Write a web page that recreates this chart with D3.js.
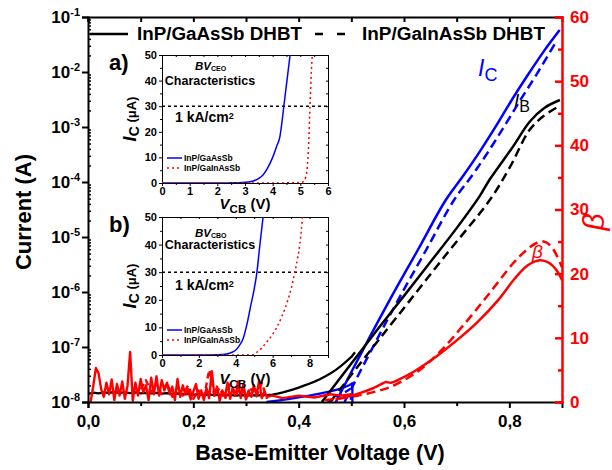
<!DOCTYPE html>
<html><head><meta charset="utf-8">
<script src="https://cdn.jsdelivr.net/npm/d3@7"></script>
<style>
body{margin:0;background:#fff}
svg{display:block}
text{font-family:Arial,"Liberation Sans",Helvetica,sans-serif}
</style>
</head><body>
<svg id="chart" width="612" height="470"></svg>
<script>
// ---------- Gummel data: base-emitter voltage (V) vs current (A) ----------
// InP/GaAsSb DHBT (solid lines)
const icGaAsSbV = [0.4706,0.5218,0.573,0.6262,0.6793,0.7135,0.7457,0.776,0.8046,0.835,0.867,0.8956];
const icGaAsSbA = [1.0e-8,8.8e-8,7.2e-7,5.8e-6,4.7e-5,1.34e-4,3.8e-4,1.09e-3,3.1e-3,8.8e-3,2.5e-2,5.8e-2];
const ibGaAsSbV = [0.444,0.50,0.55,0.60,0.65,0.70,0.744,0.763,0.807,0.839,0.867,0.896];
const ibGaAsSbA = [1.0e-8,5.0e-8,2.1e-7,8.5e-7,3.5e-6,1.45e-5,5.6e-5,1.12e-4,4.4e-4,1.26e-3,2.24e-3,3.1e-3];
// InP/GaInAsSb DHBT (dashed lines)
const icGaInAsSbV = [0.487,0.538,0.589,0.642,0.695,0.730,0.762,0.792,0.821,0.851,0.886];
const icGaInAsSbA = [1.0e-8,8.8e-8,7.2e-7,5.8e-6,4.7e-5,1.34e-4,3.8e-4,1.09e-3,3.1e-3,8.8e-3,3.2e-2];
const ibGaInAsSbV = [0.46,0.52,0.5863,0.68,0.7628,0.80,0.8387,0.865,0.8918];
const ibGaInAsSbA = [1.0e-8,5.5e-8,3.5e-7,4.8e-6,4.7e-5,1.78e-4,8.9e-4,1.58e-3,2.31e-3];

// Low-current sweep (noise floor), InP/GaAsSb
const ibLowV = [0.00,0.01,0.02,0.03,0.04,0.05,0.06,0.07,0.08,0.09,0.10,0.11,0.12,0.13,0.14,0.15,0.16,0.17,0.18,0.19,0.20,0.21,0.22,0.23,0.24,0.25,0.26,0.27,0.28,0.29,0.30,0.31,0.32,0.33,0.34,0.35,0.36,0.37,0.38,0.39,0.40,0.41,0.42,0.43,0.44,0.45,0.46,0.47,0.48,0.49,0.50,0.507];
const ibLowA = [1.40e-8,1.48e-8,1.44e-8,1.50e-8,1.46e-8,1.52e-8,1.47e-8,1.50e-8,1.45e-8,1.49e-8,1.44e-8,1.47e-8,1.43e-8,1.46e-8,1.42e-8,1.45e-8,1.40e-8,1.43e-8,1.38e-8,1.41e-8,1.36e-8,1.39e-8,1.34e-8,1.37e-8,1.33e-8,1.36e-8,1.32e-8,1.35e-8,1.31e-8,1.34e-8,1.30e-8,1.33e-8,1.31e-8,1.34e-8,1.33e-8,1.36e-8,1.42e-8,1.50e-8,1.60e-8,1.70e-8,1.82e-8,1.98e-8,2.15e-8,2.35e-8,2.6e-8,2.9e-8,3.3e-8,3.8e-8,4.5e-8,5.4e-8,6.6e-8,8.0e-8];
const icLowV = [0.339,0.36,0.38,0.40,0.42,0.44,0.46,0.48,0.497,0.502,0.502];
const icLowA = [1.0e-8,1.06e-8,1.13e-8,1.21e-8,1.30e-8,1.42e-8,1.56e-8,1.75e-8,2.04e-8,2.2e-8,1.0e-8];
const icLowDashV = [0.455,0.47,0.485,0.497,0.50];
const icLowDashA = [1.0e-8,1.2e-8,1.45e-8,1.7e-8,1.0e-8];

// Current gain beta (right axis)
const betaGaAsSbV = [0.47,0.50,0.52,0.54,0.555,0.565,0.575,0.59,0.62,0.66,0.70,0.74,0.78,0.81,0.835,0.858,0.875,0.89,0.90];
const betaGaAsSb  = [0.4,1.0,1.5,2.1,2.7,3.1,3.0,3.5,4.8,7.0,9.6,12.5,16.0,19.2,21.3,22.1,21.7,20.5,19.0];
const betaGaInAsSbV = [0.45,0.50,0.54,0.57,0.60,0.63,0.668,0.71,0.757,0.806,0.83,0.85,0.865,0.88,0.90];
const betaGaInAsSb  = [0.3,0.8,1.5,2.2,3.4,5.0,7.8,11.7,16.4,21.5,23.5,24.7,25.0,24.2,21.0];
// Gain computed in the noise floor
const betaNoiseV = [0.005,0.01,0.015,0.02,0.025,0.03,0.035,0.04,0.045,0.05,0.055,0.06,0.065,0.07,0.075,0.08,0.085,0.09,0.095,0.10,0.105,0.11,0.115,0.12,0.125,0.13,0.135,0.14,0.145,0.15,0.155,0.16,0.165,0.17,0.175,0.18,0.185,0.19,0.195,0.20,0.205,0.21,0.215,0.22,0.225,0.23,0.235,0.24,0.245,0.25,0.255,0.26,0.265,0.27,0.275,0.28,0.285,0.29,0.295,0.30,0.305,0.31,0.315,0.32,0.325,0.33,0.335,0.34,0.35,0.37,0.40,0.43,0.46,0.48,0.50];
const betaNoise  = [0,2.5,5.3,4.5,2.0,0.8,3.0,1.2,3.5,0.3,2.8,1.0,3.2,0.5,2.5,7.8,0.2,3.0,1.0,3.6,1.5,2.6,0.3,3.8,1.2,4.0,1.0,3.4,1.8,3.0,1.2,2.4,0.3,3.6,0.8,2.6,1.2,2.0,0.4,1.6,2.8,0.5,1.8,0.3,2.2,0.6,4.8,1.0,2.4,0.2,1.8,0.8,3.0,0.5,2.2,1.0,3.2,0.6,2.8,0.4,1.8,0.8,2.6,1.0,3.4,0.6,1.6,0.8,1.0,0.6,1.0,0.7,1.2,1.0,1.2];
const betaNoiseDashV = [0.10,0.11,0.12,0.13,0.14,0.15,0.16,0.17,0.18,0.19,0.20,0.21,0.22,0.23,0.235,0.24,0.25,0.26,0.27,0.28,0.29,0.30,0.31,0.32,0.33,0.34];
const betaNoiseDash  = [2.0,3.4,1.5,2.8,1.2,3.0,0.8,2.4,1.0,2.6,0.5,1.8,0.6,5.0,3.4,0.8,2.2,0.4,2.8,1.0,2.4,0.6,2.0,0.9,3.0,0.5];

// Axis ticks
const xMajorTicks = [0,0.2,0.4,0.6,0.8];
const xMinorTicks = [0.1,0.3,0.5,0.7];
const decadeExps = [-8,-7,-6,-5,-4,-3,-2,-1];
const betaTicks = [0,10,20,30,40,50,60];
const betaMinorTicks = [5,15,25,35,45,55];

// ---------- Breakdown insets: V_CB (V) vs I_C (uA) ----------
const limitCurrent = 30;   // 1 kA/cm2 criterion
const ceoGaAsSbV = [0,1,2,2.5,3.0,3.3,3.5,3.65,3.8,4.0,4.15,4.26,4.35,4.4,4.5,4.55,4.63];
const ceoGaAsSbI = [0,0,0,0.05,0.3,0.8,1.8,3.1,5.5,10,14.5,18,25,29.7,38.5,43,50];
const ceoGaInAsSbV = [0,3.5,4.5,5.0,5.1,5.2,5.25,5.3,5.35,5.4,5.43];
const ceoGaInAsSbI = [0,0,0.05,0.2,0.5,2.5,6,15,30,44,50];
const cboGaAsSbV = [0,2,3,3.5,3.8,4.0,4.2,4.4,4.6,4.8,5.0,5.14,5.3,5.48];
const cboGaAsSbI = [0,0,0.1,0.4,1.0,1.8,3.5,6,11,17.5,24,29.7,39.5,50];
const cboGaInAsSbV = [0,4.9,5.14,5.4,5.68,6.0,6.22,6.5,6.78,7.0,7.2,7.35,7.48,7.62];
const cboGaInAsSbI = [0,0,1,2.5,4.7,7.5,10,14,19,24,30,35,40.5,50];

const BLUE = "#0000ff", RED = "#ff0000";
const zip = (a, b) => a.map((v, i) => [v, b[i]]);

const svg = d3.select("#chart");
const X0 = 88, X1 = 562, Y0 = 402, Y1 = 17;
const x = d3.scaleLinear().domain([0, 0.9]).range([X0, X1]);
const yI = d3.scaleLog().domain([1e-8, 1e-1]).range([Y0, Y1]);
const yB = d3.scaleLinear().domain([0, 60]).range([Y0, Y1]);

const defs = svg.append("defs");
defs.append("clipPath").attr("id", "mainClip").append("rect")
  .attr("x", X0).attr("y", Y1).attr("width", X1 - X0).attr("height", Y0 - Y1 + 2);

const plot = svg.append("g").attr("clip-path", "url(#mainClip)");
const lineI = d3.line().x(d => x(d[0])).y(d => yI(d[1]));
const lineIs = d3.line().x(d => x(d[0])).y(d => yI(d[1])).curve(d3.curveCatmullRom.alpha(0.5));
const lineB = d3.line().x(d => x(d[0])).y(d => yB(d[1]));
const lineBs = d3.line().x(d => x(d[0])).y(d => yB(d[1])).curve(d3.curveCatmullRom.alpha(0.5));

function path(g, fn, data, color, dash, w) {
  g.append("path").attr("d", fn(data)).attr("fill", "none")
    .attr("stroke", color).attr("stroke-width", w || 2.5)
    .attr("stroke-dasharray", dash || null)
    .attr("stroke-linejoin", "round");
}
const DASH = "9,5";

// noise-floor sweeps
path(plot, lineI, zip(ibLowV, ibLowA), "#000", null, 2.3);
path(plot, lineI, zip(icLowV, icLowA), BLUE, null, 2.3);
path(plot, lineI, zip(icLowDashV, icLowDashA), BLUE, "6,4", 2.3);
// collector and base currents
path(plot, lineIs, zip(icGaAsSbV, icGaAsSbA), BLUE);
path(plot, lineIs, zip(icGaInAsSbV, icGaInAsSbA), BLUE, DASH);
path(plot, lineIs, zip(ibGaAsSbV, ibGaAsSbA), "#000");
path(plot, lineIs, zip(ibGaInAsSbV, ibGaInAsSbA), "#000", DASH);
// current gain
path(plot, lineB, zip(betaNoiseV, betaNoise), RED, null, 2.4);
path(plot, lineB, zip(betaNoiseDashV, betaNoiseDash), RED, "6,4", 2.4);
path(plot, lineBs, zip(betaGaAsSbV, betaGaAsSb), RED);
path(plot, lineBs, zip(betaGaInAsSbV, betaGaInAsSb), RED, DASH);

// ---------- axes ----------
const TICK_FONT = 17;
function styleAxis(g, color, w) {
  g.select(".domain").attr("stroke", color).attr("stroke-width", w);
  g.selectAll(".tick line").attr("stroke", color).attr("stroke-width", w);
  g.selectAll(".tick text").attr("fill", color)
    .attr("font-size", TICK_FONT).attr("font-weight", "bold")
    .attr("font-family", "Arial, 'Liberation Sans', sans-serif");
}
const fmtX = d => d.toFixed(1).replace(".", ",");
const gxB = svg.append("g").attr("transform", `translate(0,${Y0})`)
  .call(d3.axisBottom(x).tickValues(xMajorTicks).tickSize(6).tickPadding(7).tickFormat(fmtX));
styleAxis(gxB, "#000", 2);
const gxBm = svg.append("g").attr("transform", `translate(0,${Y0})`)
  .call(d3.axisBottom(x).tickValues(xMinorTicks).tickSize(4).tickFormat(""));
styleAxis(gxBm, "#000", 2); gxBm.select(".domain").remove();
const gxT = svg.append("g").attr("transform", `translate(0,${Y1})`)
  .call(d3.axisTop(x).tickValues(xMajorTicks.concat(xMinorTicks)).tickSize(-5).tickFormat(""));
styleAxis(gxT, "#000", 2);

const decades = decadeExps.map(e => Math.pow(10, e));
const minor = [];
decadeExps.slice(0, -1).forEach(e => { for (let k = 2; k <= 9; k++) minor.push(k * Math.pow(10, e)); });
const gyL = svg.append("g").attr("transform", `translate(${X0},0)`)
  .call(d3.axisLeft(yI).tickValues(decades).tickSize(6).tickFormat(""));
styleAxis(gyL, "#000", 2);
const gyLm = svg.append("g").attr("transform", `translate(${X0},0)`)
  .call(d3.axisLeft(yI).tickValues(minor).tickSize(-3).tickFormat(""));
styleAxis(gyLm, "#000", 1.5); gyLm.select(".domain").remove();
decadeExps.forEach(e => {
  const t = svg.append("text").attr("x", X0 - 8).attr("y", yI(Math.pow(10, e)) + 6)
    .attr("text-anchor", "end").attr("font-size", TICK_FONT).attr("font-weight", "bold");
  t.append("tspan").text("10");
  t.append("tspan").attr("dy", -7).attr("font-size", 11).text(String(e));
});

const gyR = svg.append("g").attr("transform", `translate(${X1},0)`)
  .call(d3.axisRight(yB).tickValues(betaTicks).tickSize(-7).tickPadding(8));
styleAxis(gyR, RED, 2.5);
const gyRm = svg.append("g").attr("transform", `translate(${X1},0)`)
  .call(d3.axisRight(yB).tickValues(betaMinorTicks).tickSize(-4).tickFormat(""));
styleAxis(gyRm, RED, 2.5); gyRm.select(".domain").remove();

// axis titles
svg.append("text").attr("transform", "translate(31,212) rotate(-90)")
  .attr("text-anchor", "middle").attr("font-size", 22).attr("font-weight", "bold").text("Current (A)");
svg.append("text").attr("x", 320).attr("y", 460)
  .attr("text-anchor", "middle").attr("font-size", 21.5).attr("font-weight", "bold").text("Base-Emitter Voltage (V)");
svg.append("text").attr("transform", "translate(604,222) rotate(-90)")
  .attr("text-anchor", "middle").attr("font-size", 30).attr("font-style", "italic")
  .attr("fill", RED).text("β");

// curve labels
const lc = svg.append("text").attr("x", 478).attr("y", 76).attr("fill", BLUE).attr("font-size", 23);
lc.append("tspan").attr("font-style", "italic").text("I");
lc.append("tspan").attr("dy", 5).attr("font-size", 18).text("C");
const lb = svg.append("text").attr("x", 514).attr("y", 107).attr("fill", "#000").attr("font-size", 19);
lb.append("tspan").attr("font-style", "italic").text("I");
lb.append("tspan").attr("dy", 5).attr("font-size", 16).text("B");
svg.append("text").attr("x", 532).attr("y", 258).attr("fill", RED)
  .attr("font-size", 19).attr("font-style", "italic").text("β");

// legend
svg.append("line").attr("x1", 90).attr("x2", 128).attr("y1", 34).attr("y2", 34)
  .attr("stroke", "#000").attr("stroke-width", 2.5);
svg.append("text").attr("x", 137).attr("y", 40).attr("font-size", 17.5).attr("font-weight", "bold")
  .attr("textLength", 165).attr("lengthAdjust", "spacingAndGlyphs").text("InP/GaAsSb DHBT");
svg.append("line").attr("x1", 315).attr("x2", 345).attr("y1", 34).attr("y2", 34)
  .attr("stroke", "#000").attr("stroke-width", 2.5).attr("stroke-dasharray", "8,14");
svg.append("text").attr("x", 362).attr("y", 40).attr("font-size", 17.5).attr("font-weight", "bold")
  .attr("textLength", 183).attr("lengthAdjust", "spacingAndGlyphs").text("InP/GaInAsSb DHBT");

// ---------- insets ----------
function inset(cfg) {
  const L = 162, R = 328;
  const g = svg.append("g");
  const xs = d3.scaleLinear().domain([0, cfg.xMax]).range([L, R]);
  const ys = d3.scaleLinear().domain([0, 50]).range([cfg.bottom, cfg.top]);
  g.append("rect").attr("x", L).attr("y", cfg.top).attr("width", R - L).attr("height", cfg.bottom - cfg.top)
    .attr("fill", "#fff").attr("stroke", "none");
  const id = "clip" + cfg.name;
  defs.append("clipPath").attr("id", id).append("rect")
    .attr("x", L).attr("y", cfg.top).attr("width", R - L).attr("height", cfg.bottom - cfg.top);

  const st = (a) => {
    a.select(".domain").attr("stroke", "#000").attr("stroke-width", 1);
    a.selectAll(".tick line").attr("stroke", "#000").attr("stroke-width", 1);
    a.selectAll(".tick text").attr("font-size", 11).attr("font-weight", "bold").attr("fill", "#000")
      .attr("font-family", "Arial, 'Liberation Sans', sans-serif");
  };
  const ax = g.append("g").attr("transform", `translate(0,${cfg.bottom})`)
    .call(d3.axisBottom(xs).tickValues(cfg.xTicks).tickSize(3).tickPadding(1).tickFormat(d3.format("d")));
  st(ax);
  const axm = g.append("g").attr("transform", `translate(0,${cfg.bottom})`)
    .call(d3.axisBottom(xs).tickValues(cfg.xMinor).tickSize(2).tickFormat(""));
  st(axm); axm.select(".domain").remove();
  const at = g.append("g").attr("transform", `translate(0,${cfg.top})`)
    .call(d3.axisTop(xs).tickValues(cfg.xTicks.concat(cfg.xMinor)).tickSize(-2).tickFormat(""));
  st(at);
  const ay = g.append("g").attr("transform", `translate(${L},0)`)
    .call(d3.axisLeft(ys).tickValues([0, 10, 20, 30, 40, 50]).tickSize(3).tickPadding(2));
  st(ay);
  const aym = g.append("g").attr("transform", `translate(${L},0)`)
    .call(d3.axisLeft(ys).tickValues([5, 15, 25, 35, 45]).tickSize(2).tickFormat(""));
  st(aym); aym.select(".domain").remove();
  const ar = g.append("g").attr("transform", `translate(${R},0)`)
    .call(d3.axisRight(ys).tickValues([0, 5, 10, 15, 20, 25, 30, 35, 40, 45, 50]).tickSize(-2).tickFormat(""));
  st(ar);

  const pg = g.append("g").attr("clip-path", `url(#${id})`);
  const ln = d3.line().x(d => xs(d[0])).y(d => ys(d[1])).curve(d3.curveMonotoneX);
  pg.append("line").attr("x1", L).attr("x2", R).attr("y1", ys(limitCurrent)).attr("y2", ys(limitCurrent))
    .attr("stroke", "#000").attr("stroke-width", 1.5).attr("stroke-dasharray", "3,3");
  pg.append("path").attr("d", ln(cfg.blue)).attr("fill", "none").attr("stroke", BLUE).attr("stroke-width", 1.5);
  pg.append("path").attr("d", ln(cfg.red)).attr("fill", "none").attr("stroke", RED).attr("stroke-width", 1.5)
    .attr("stroke-dasharray", "2,3");

  // texts
  const t1 = g.append("text").attr("x", cfg.bvX).attr("y", cfg.bvY).attr("font-size", 11.5).attr("font-weight", "bold");
  t1.append("tspan").attr("font-style", "italic").text("BV");
  t1.append("tspan").attr("font-size", 7).attr("dy", 1).text(cfg.sub);
  g.append("text").attr("x", 210).attr("y", cfg.chY).attr("text-anchor", "middle")
    .attr("font-size", 12.5).attr("font-weight", "bold").text("Characteristics");
  const t2 = g.append("text").attr("x", 175).attr("y", cfg.kaY).attr("font-size", 14).attr("font-weight", "bold");
  t2.append("tspan").text("1 kA/cm");
  t2.append("tspan").attr("font-size", 9).attr("dy", -3).text("2");

  // legend
  g.append("line").attr("x1", 167).attr("x2", 182).attr("y1", cfg.legY).attr("y2", cfg.legY)
    .attr("stroke", BLUE).attr("stroke-width", 1.5);
  g.append("text").attr("x", 184).attr("y", cfg.legY + 3).attr("font-size", 8.5).attr("font-weight", "bold").text("InP/GaAsSb");
  g.append("line").attr("x1", 167).attr("x2", 182).attr("y1", cfg.legY + 10).attr("y2", cfg.legY + 10)
    .attr("stroke", RED).attr("stroke-width", 1.5).attr("stroke-dasharray", "2,3");
  g.append("text").attr("x", 184).attr("y", cfg.legY + 13).attr("font-size", 8.5).attr("font-weight", "bold").text("InP/GaInAsSb");

  // axis titles
  const xt = g.append("text").attr("x", 245).attr("y", cfg.xtY).attr("text-anchor", "middle")
    .attr("font-size", 15).attr("font-weight", "bold");
  xt.append("tspan").attr("font-style", "italic").text("V");
  xt.append("tspan").attr("font-size", 11.5).attr("dy", 4).text("CB");
  xt.append("tspan").attr("dy", -4).text(" (V)");
  const yt = g.append("text").attr("transform", `translate(136,${(cfg.top + cfg.bottom) / 2}) rotate(-90)`)
    .attr("text-anchor", "middle").attr("font-size", 18).attr("font-weight", "bold");
  yt.append("tspan").attr("font-style", "italic").text("I");
  yt.append("tspan").attr("font-size", 14).attr("dy", 3).text("C");
  yt.append("tspan").attr("font-size", 13).attr("dy", -3).text(" (μA)");

  g.append("text").attr("x", 109).attr("y", cfg.top + 15).attr("font-size", 22).attr("font-weight", "bold").text(cfg.name + ")");
}

inset({ name: "a", xMax: 6, top: 55, bottom: 183, xTicks: [0,1,2,3,4,5,6], xMinor: [0.5,1.5,2.5,3.5,4.5,5.5],
  blue: zip(ceoGaAsSbV, ceoGaAsSbI), red: zip(ceoGaInAsSbV, ceoGaInAsSbI), sub: "CEO",
  bvX: 195, bvY: 70, chY: 85, kaY: 122, legY: 158, xtY: 209 });
inset({ name: "b", xMax: 9, top: 217, bottom: 355, xTicks: [0,2,4,6,8], xMinor: [1,3,5,7,9],
  blue: zip(cboGaAsSbV, cboGaAsSbI), red: zip(cboGaInAsSbV, cboGaInAsSbI), sub: "CBO",
  bvX: 195, bvY: 237, chY: 249, kaY: 290, legY: 330, xtY: 384 });
</script>
</body></html>
